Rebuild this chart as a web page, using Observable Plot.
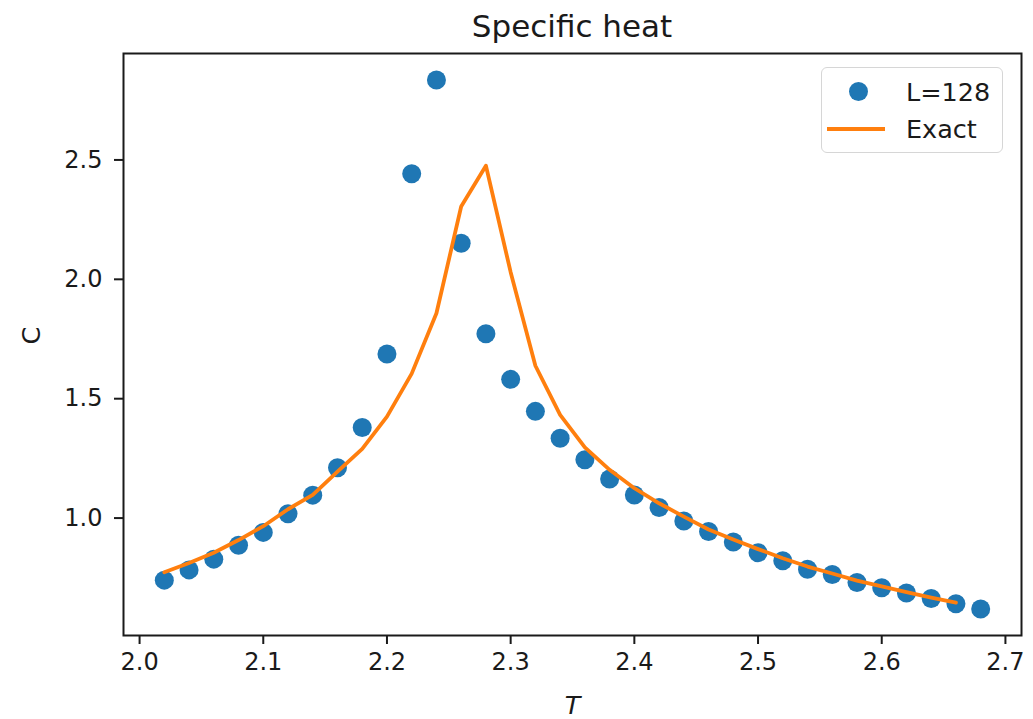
<!DOCTYPE html>
<html>
<head>
<meta charset="utf-8">
<script src="https://cdn.jsdelivr.net/npm/d3@7"></script>
<script src="https://cdn.jsdelivr.net/npm/@observablehq/plot@0.6"></script>
<style>
  body { margin: 0; background: #fff; font-family: "DejaVu Sans", sans-serif; }
  #wrap { position: relative; width: 1033px; height: 719px; overflow: hidden; }
  #title { position: absolute; z-index: 2; left: 123px; width: 898px; top: 0; height: 40px;
           text-align: center; font-size: 31px; line-height: 53px; color: #1a1a1a; white-space: nowrap; }
  #spacer { height: 40px; }
  #legend { position: absolute; z-index: 3; left: 821px; top: 67px; width: 182px; height: 86px;
            box-sizing: border-box; border: 1.5px solid #d6d6d6; border-radius: 6px;
            background: rgba(255,255,255,0.8); font-size: 25.5px; color: #1a1a1a; }
  #legend .t { position: absolute; left: 84px; height: 30px; line-height: 30px; white-space: nowrap; }
  #legend .mk { position: absolute; left: 27px; top: 14px; width: 19px; height: 19px; border-radius: 50%; background: #1f77b4; }
  #legend .ln { position: absolute; left: 5px; top: 59px; width: 58px; height: 4px; background: #ff7f0e; }
</style>
</head>
<body>
<div id="wrap">
  <div id="title">Specific heat</div>
  <div id="spacer"></div>
  <div id="chart"></div>
  <div id="legend">
    <span class="mk"></span><span class="t" id="lg1" style="top:9px"></span>
    <span class="ln"></span><span class="t" id="lg2" style="top:46px"></span>
  </div>
</div>
<script>
// ---- data ----
const seriesNames = ["L=128", "Exact"];

const T_sim = [2.02, 2.04, 2.06, 2.08, 2.10, 2.12, 2.14, 2.16, 2.18, 2.20, 2.22, 2.24, 2.26, 2.28, 2.30,
               2.32, 2.34, 2.36, 2.38, 2.40, 2.42, 2.44, 2.46, 2.48, 2.50, 2.52, 2.54, 2.56, 2.58, 2.60,
               2.62, 2.64, 2.66, 2.68];
const C_sim = [0.740, 0.783, 0.828, 0.886, 0.940, 1.018, 1.096, 1.211, 1.379, 1.687, 2.442, 2.835, 2.151, 1.772, 1.581,
               1.447, 1.334, 1.244, 1.164, 1.097, 1.044, 0.988, 0.944, 0.900, 0.855, 0.821, 0.786, 0.764, 0.730, 0.708,
               0.686, 0.663, 0.641, 0.619];

const T_exact = [2.02, 2.04, 2.06, 2.08, 2.10, 2.12, 2.14, 2.16, 2.18, 2.20, 2.22, 2.24, 2.26, 2.28, 2.30,
                 2.32, 2.34, 2.36, 2.38, 2.40, 2.42, 2.44, 2.46, 2.48, 2.50, 2.52, 2.54, 2.56, 2.58, 2.60,
                 2.62, 2.64, 2.66];
const C_exact = [0.773, 0.812, 0.855, 0.908, 0.966, 1.037, 1.097, 1.195, 1.290, 1.425, 1.605, 1.858, 2.305, 2.476, 2.030,
                 1.638, 1.432, 1.296, 1.202, 1.125, 1.062, 1.006, 0.952, 0.910, 0.870, 0.832, 0.797, 0.768, 0.738, 0.714,
                 0.690, 0.667, 0.646];

const xTicks = [2.0, 2.1, 2.2, 2.3, 2.4, 2.5, 2.6, 2.7];
const yTicks = [1.0, 1.5, 2.0, 2.5];
const titleText = "Specific heat";
const xLabel = "T";
const yLabel = "C";

// ---- build tables ----
const simData = T_sim.map((t, i) => ({T: t, C: C_sim[i]}));
const exactData = T_exact.map((t, i) => ({T: t, C: C_exact[i]}));

// matplotlib-like 5% auto margins
function padded(vals) {
  const [a, b] = d3.extent(vals);
  const m = (b - a) * 0.05;
  return [a - m, b + m];
}
const xDomain = padded(T_sim.concat(T_exact));
const yDomain = padded(C_sim.concat(C_exact));

document.getElementById("title").textContent = titleText;
document.getElementById("lg1").textContent = seriesNames[0];
document.getElementById("lg2").textContent = seriesNames[1];

const fmt = d3.format(".1f");
const chart = Plot.plot({
  width: 1033,
  height: 679,
  marginTop: 13,
  marginBottom: 84,
  marginLeft: 123,
  marginRight: 12,
  style: { fontFamily: "DejaVu Sans", fontSize: "24px", color: "#1a1a1a", background: "transparent" },
  x: { domain: xDomain },
  y: { domain: yDomain },
  marks: [
    Plot.dot(simData, { x: "T", y: "C", r: 9.5, fill: "#1f77b4", stroke: "none" }),
    Plot.line(exactData, { x: "T", y: "C", stroke: "#ff7f0e", strokeWidth: 3.8, curve: "linear" }),
    Plot.frame({ stroke: "#1a1a1a", strokeWidth: 2 }),
    Plot.axisX({ ticks: xTicks, tickFormat: fmt, tickSize: 9, tickPadding: 8, strokeWidth: 2, fontSize: 24, label: null }),
    Plot.axisY({ ticks: yTicks, tickFormat: fmt, tickSize: 9, tickPadding: 12, strokeWidth: 2, fontSize: 24, label: null }),
    Plot.text([xLabel], { frameAnchor: "bottom", dy: 78, fontSize: 25.5, fontStyle: "italic", fill: "#1a1a1a" }),
    Plot.text([yLabel], { frameAnchor: "left", dx: -92, rotate: -90, fontSize: 25.5, fill: "#1a1a1a" })
  ]
});
document.getElementById("chart").appendChild(chart);
</script>
</body>
</html>
